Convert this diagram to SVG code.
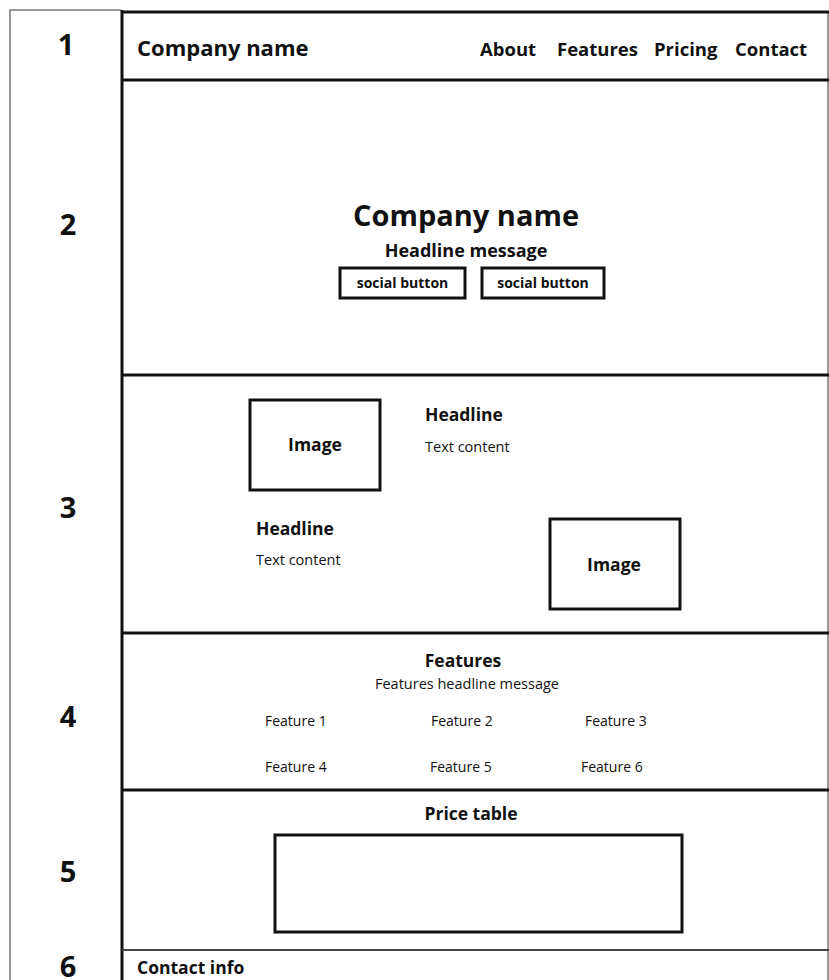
<svg xmlns="http://www.w3.org/2000/svg" width="829" height="980" viewBox="0 0 829 980">
<style>
text{font-family:"Open Sans","Liberation Sans",sans-serif;fill:#111}
.b{font-weight:bold}
.num{font-weight:bold;font-size:29px;text-anchor:middle}
.c{text-anchor:middle}
.sec{stroke:#111;stroke-width:3;fill:none}
.box{stroke:#111;stroke-width:3;fill:#fff}
.thin{stroke:#777;stroke-width:1.5;fill:none}
.h{font-size:17.5px;font-weight:bold}
.t{font-size:14.5px}
.f{font-size:14px}
</style>
<rect width="829" height="980" fill="#fff"/>
<g id="frame">
<path class="thin" d="M10,980 V10 H121"/>
<line class="thin" x1="828" y1="12" x2="828" y2="980"/>
<line class="sec" x1="122" y1="10" x2="122" y2="980"/>
<line class="sec" x1="121" y1="12" x2="829" y2="12"/>
<line class="sec" x1="122" y1="80" x2="829" y2="80"/>
<line class="sec" x1="122" y1="375" x2="829" y2="375"/>
<line class="sec" x1="122" y1="633" x2="829" y2="633"/>
<line class="sec" x1="122" y1="790" x2="829" y2="790"/>
<line x1="122" y1="950" x2="829" y2="950" stroke="#444" stroke-width="2"/>
</g>
<g id="numbers">
<text class="num" x="66" y="55">1</text>
<text class="num" x="68" y="235">2</text>
<text class="num" x="68" y="518">3</text>
<text class="num" x="68" y="727">4</text>
<text class="num" x="68" y="882">5</text>
<text class="num" x="68" y="977">6</text>
</g>
<g id="section1">
<text class="b" x="137" y="56" font-size="22">Company name</text>
<text class="b" x="480" y="56" font-size="18.5">About</text>
<text class="b" x="557" y="56" font-size="18.5">Features</text>
<text class="b" x="654" y="56" font-size="18.5">Pricing</text>
<text class="b" x="735" y="56" font-size="18.5">Contact</text>
</g>
<g id="section2">
<text class="b c" x="466" y="226" font-size="29">Company name</text>
<text class="b c" x="466" y="257" font-size="18">Headline message</text>
<g id="social1"><rect class="box" x="340" y="268" width="125" height="30"/><text class="b c" x="402.5" y="288" font-size="14">social button</text></g>
<g id="social2"><rect class="box" x="482" y="268" width="122" height="30"/><text class="b c" x="543" y="288" font-size="14">social button</text></g>
</g>
<g id="section3">
<g id="image1"><rect class="box" x="250" y="400" width="130" height="90"/><text class="h c" x="315" y="451">Image</text></g>
<text class="h" x="425" y="421">Headline</text>
<text class="t" x="425" y="452">Text content</text>
<text class="h" x="256" y="535">Headline</text>
<text class="t" x="256" y="565">Text content</text>
<g id="image2"><rect class="box" x="550" y="519" width="130" height="90"/><text class="h c" x="614" y="571">Image</text></g>
</g>
<g id="section4">
<text class="h c" x="463" y="667">Features</text>
<text class="c t" x="467" y="689">Features headline message</text>
<text class="f" x="265" y="726">Feature 1</text>
<text class="f" x="431" y="726">Feature 2</text>
<text class="f" x="585" y="726">Feature 3</text>
<text class="f" x="265" y="772">Feature 4</text>
<text class="f" x="430" y="772">Feature 5</text>
<text class="f" x="581" y="772">Feature 6</text>
</g>
<g id="section5">
<text class="h c" x="471" y="820">Price table</text>
<rect class="box" x="275" y="835" width="407" height="97"/>
</g>
<g id="section6">
<text class="h" x="137" y="974">Contact info</text>
</g>
</svg>
